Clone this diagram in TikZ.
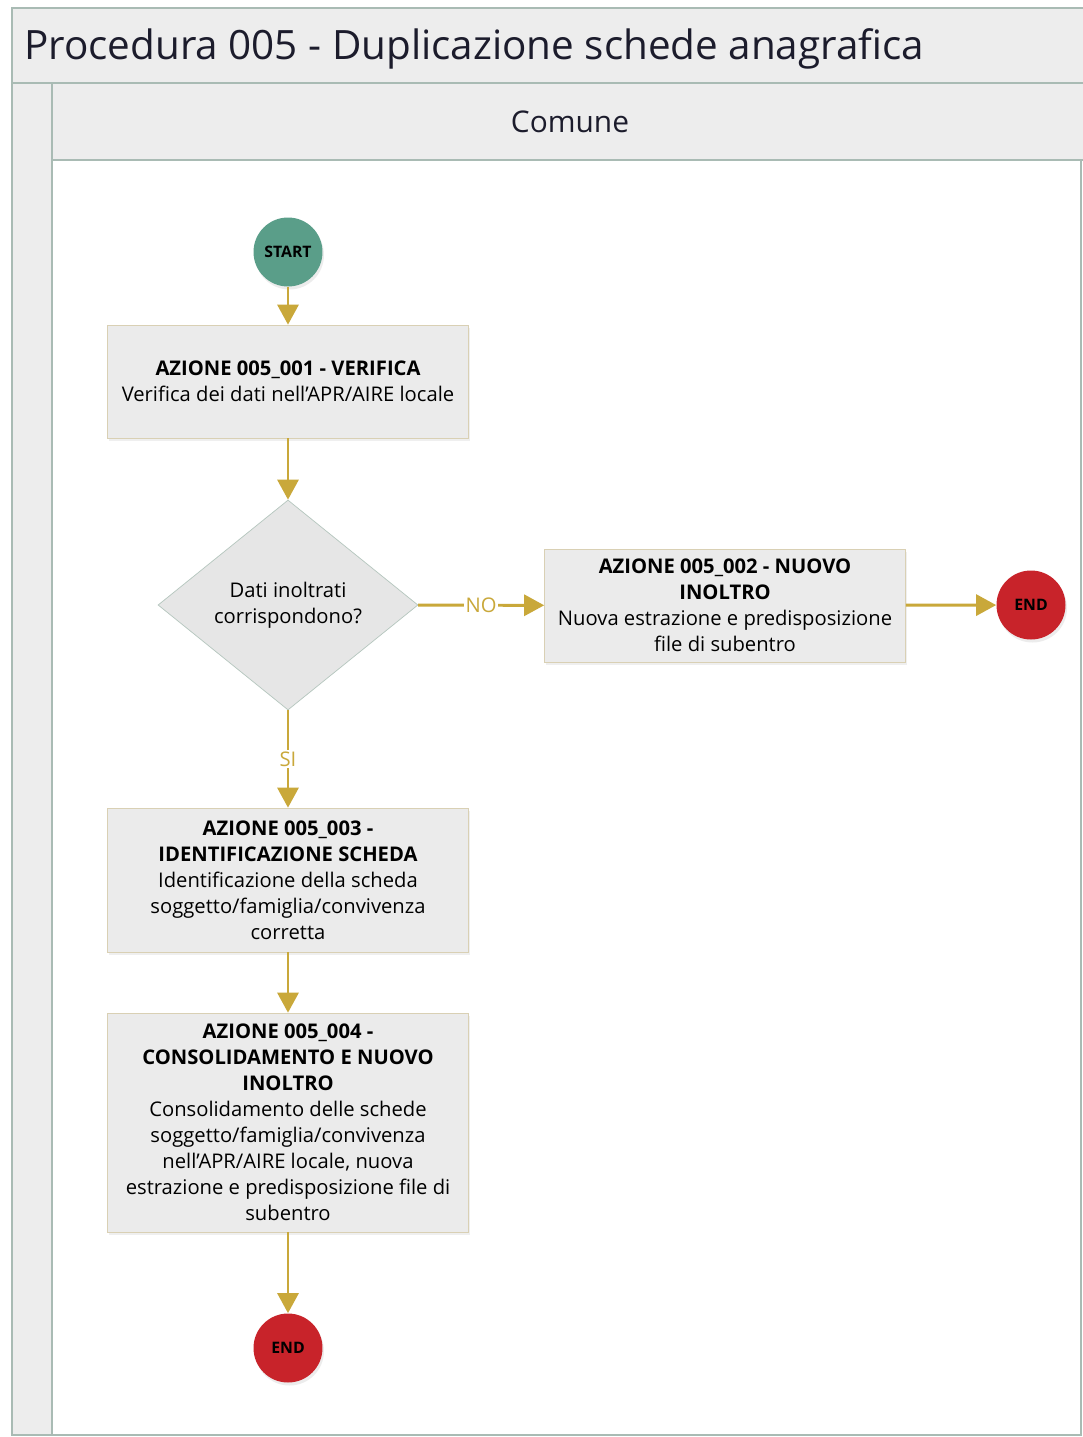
\documentclass[tikz,border=0pt]{standalone}
\usepackage{fontspec}
\setmainfont{Open Sans}
\usetikzlibrary{shapes.geometric,arrows.meta,shadows}

\definecolor{bandgray}{HTML}{EDEDED}
\definecolor{poolline}{HTML}{A9BBB4}
\definecolor{boxgray}{HTML}{EBEBEB}
\definecolor{boxline}{HTML}{D9D0B4}
\definecolor{diagray}{HTML}{E6E6E6}
\definecolor{dialine}{HTML}{B5C6BE}
\definecolor{startgreen}{HTML}{5A9E89}
\definecolor{endred}{HTML}{C8232A}
\definecolor{flowgold}{HTML}{C9A83A}
\definecolor{titleink}{HTML}{1C1C2C}

\begin{document}
\begin{tikzpicture}[x = 0.02cm, y = -0.02cm,
band/.style = {draw = poolline, line width = 1.1pt, fill = bandgray},
action/.style = {rectangle, draw = boxline, fill = boxgray, minimum width = 7.22cm,
  align = center, inner sep = 2pt, font = \fontsize{11.5}{14.8}\selectfont,
  drop shadow = {shadow xshift = 0.3mm, shadow yshift = -0.6mm, opacity = 0.12}},
event/.style = {circle, minimum size = 1.38cm, inner sep = 0pt,
  font = \bfseries\fontsize{9}{10}\selectfont,
  drop shadow = {shadow xshift = 0.3mm, shadow yshift = -0.6mm, opacity = 0.15}},
decision/.style = {diamond, draw = dialine, fill = diagray, minimum width = 5.2cm,
  minimum height = 4.2cm, inner sep = 0pt, align = center,
  font = \fontsize{11.5}{14.8}\selectfont},
flow/.style = {-{Triangle[length = 4mm, width = 4.2mm]}, line width = 1.7pt, draw = flowgold},
lbl/.style = {fill = white, inner sep = 1pt, text = flowgold, font = \fontsize{11.5}{13}\selectfont}]

\useasboundingbox (0,0) rectangle (1082,1437);

% Pool and lane
\draw[band] (12,8) rectangle (1100,83);
\draw[band] (12,83) rectangle (52,1435);
\draw[band] (52,83) rectangle (1100,160);
\draw[draw = poolline, line width = 1.1pt, fill = white] (52,160) rectangle (1081,1435);
\node[anchor = west, text = titleink, font = \fontsize{23}{27}\selectfont] (title) at (18,49)
  {Procedura 005 - Duplicazione schede anagrafica};
\node[text = titleink, font = \fontsize{17}{21}\selectfont] (lane) at (570,122) {Comune};

% Steps
\node[event, fill = startgreen] (start) at (288,252) {START};
\node[action, minimum height = 2.26cm] (a1) at (288,381.5)
  {\textbf{AZIONE 005\_001 - VERIFICA}\\Verifica dei dati nell’APR/AIRE locale};
\node[decision] (dec) at (288,605) {Dati inoltrati\\corrispondono?};
\node[action, minimum height = 2.26cm] (a2) at (725,605.5)
  {\textbf{AZIONE 005\_002 - NUOVO}\\\textbf{INOLTRO}\\Nuova estrazione e predisposizione\\file di subentro};
\node[event, fill = endred] (end1) at (1031,605) {END};
\node[action, minimum height = 2.88cm] (a3) at (288,880)
  {\textbf{AZIONE 005\_003 -}\\\textbf{IDENTIFICAZIONE SCHEDA}\\Identificazione della scheda\\soggetto/famiglia/convivenza\\corretta};
\node[action, minimum height = 4.38cm] (a4) at (288,1122.5)
  {\textbf{AZIONE 005\_004 -}\\\textbf{CONSOLIDAMENTO E NUOVO}\\\textbf{INOLTRO}\\Consolidamento delle schede\\soggetto/famiglia/convivenza\\nell’APR/AIRE locale, nuova\\estrazione e predisposizione file di\\subentro};
\node[event, fill = endred] (end2) at (288,1348) {END};

% Connect steps
\draw[flow] (start) -- (a1);
\draw[flow] (a1) -- (dec);
\draw[flow] (dec) -- node[lbl] {NO} (a2);
\draw[flow] (a2) -- (end1);
\draw[flow] (dec) -- node[lbl] {SI} (a3);
\draw[flow] (a3) -- (a4);
\draw[flow] (a4) -- (end2);

\end{tikzpicture}
\end{document}
